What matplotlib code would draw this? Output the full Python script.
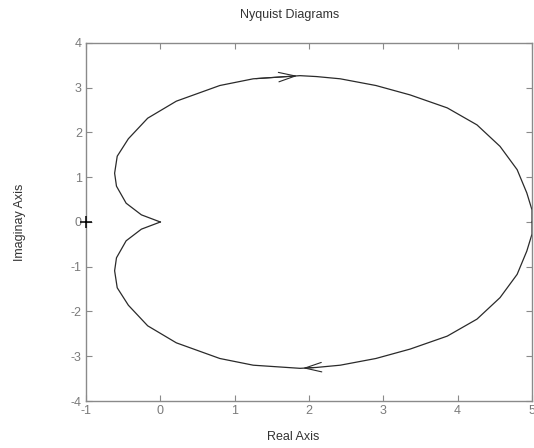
import matplotlib
matplotlib.use("Agg")
import matplotlib.pyplot as plt
from matplotlib.patches import FancyArrowPatch

plt.rcParams['font.family'] = ['Liberation Sans', 'DejaVu Sans']

# Nyquist locus, positive frequencies (lower half) from w=0 to w=inf
re_pos = [5.00, 5.00, 4.93, 4.80, 4.57, 4.26, 3.86, 3.36, 2.90, 2.42, 2.10, 1.88,
          1.25, 0.80, 0.215, -0.17, -0.43, -0.58, -0.615, -0.59, -0.46, -0.255, 0.00]
im_pos = [0.00, -0.27, -0.65, -1.17, -1.69, -2.17, -2.55, -2.84, -3.05, -3.20, -3.25, -3.27,
          -3.20, -3.05, -2.70, -2.32, -1.86, -1.47, -1.09, -0.80, -0.42, -0.16, 0.00]

# Negative frequencies (upper half), mirror image of the above
re_neg = [5.00, 5.00, 4.93, 4.80, 4.57, 4.26, 3.86, 3.36, 2.90, 2.42, 2.10, 1.88,
          1.25, 0.80, 0.215, -0.17, -0.43, -0.58, -0.615, -0.59, -0.46, -0.255, 0.00]
im_neg = [0.00, 0.27, 0.65, 1.17, 1.69, 2.17, 2.55, 2.84, 3.05, 3.20, 3.25, 3.27,
          3.20, 3.05, 2.70, 2.32, 1.86, 1.47, 1.09, 0.80, 0.42, 0.16, 0.00]

critical_point = (-1.0, 0.0)
x_ticks = [-1, 0, 1, 2, 3, 4, 5]
y_ticks = [-4, -3, -2, -1, 0, 1, 2, 3, 4]

W, H = 534, 448
fig = plt.figure(figsize=(W / 100, H / 100), dpi=100)
ax = fig.add_axes([86 / W, 1 - 401 / H, (532 - 86) / W, (401 - 43) / H])

line_col = '#2a2a2a'
ax.plot(re_pos, im_pos, color=line_col, lw=0.9)
ax.plot(re_neg, im_neg, color=line_col, lw=0.9)

# direction arrows: upper half runs left-to-right, lower half right-to-left
arrow_kw = dict(arrowstyle='->,head_length=0.6,head_width=0.17',
                color=line_col, lw=0.8, mutation_scale=20)
ax.add_patch(FancyArrowPatch((re_neg[12], im_neg[12]), (re_neg[11], im_neg[11]), **arrow_kw))
ax.add_patch(FancyArrowPatch((re_pos[10], im_pos[10]), (re_pos[11], im_pos[11]), **arrow_kw))

ax.plot([critical_point[0]], [critical_point[1]], marker='+', color='black',
        markersize=9, mew=1.1, clip_on=False, zorder=5)

ax.set_xlim(-1, 5)
ax.set_ylim(-4, 4)
ax.set_xticks(x_ticks)
ax.set_yticks(y_ticks)
ax.set_xticklabels([str(v) for v in x_ticks])
ax.set_yticklabels([str(v) for v in y_ticks])

frame_col = '#8a8a8a'
for s in ax.spines.values():
    s.set_color(frame_col)
    s.set_linewidth(1.0)
ax.tick_params(direction='in', length=4, width=0.8, color=frame_col,
               labelcolor='#7a7a7a', labelsize=9, top=True, right=True, pad=3)

fig.text(290 / W, 1 - 15 / H, 'Nyquist Diagrams', ha='center', va='center',
         fontsize=9, color='#333333')
fig.text(293 / W, 1 - 437 / H, 'Real Axis', ha='center', va='center',
         fontsize=9, color='#333333')
fig.text(20 / W, 1 - 222 / H, 'Imaginay Axis', ha='center', va='center',
         rotation=90, fontsize=9, color='#333333')

fig.savefig('out.png', dpi=100)
